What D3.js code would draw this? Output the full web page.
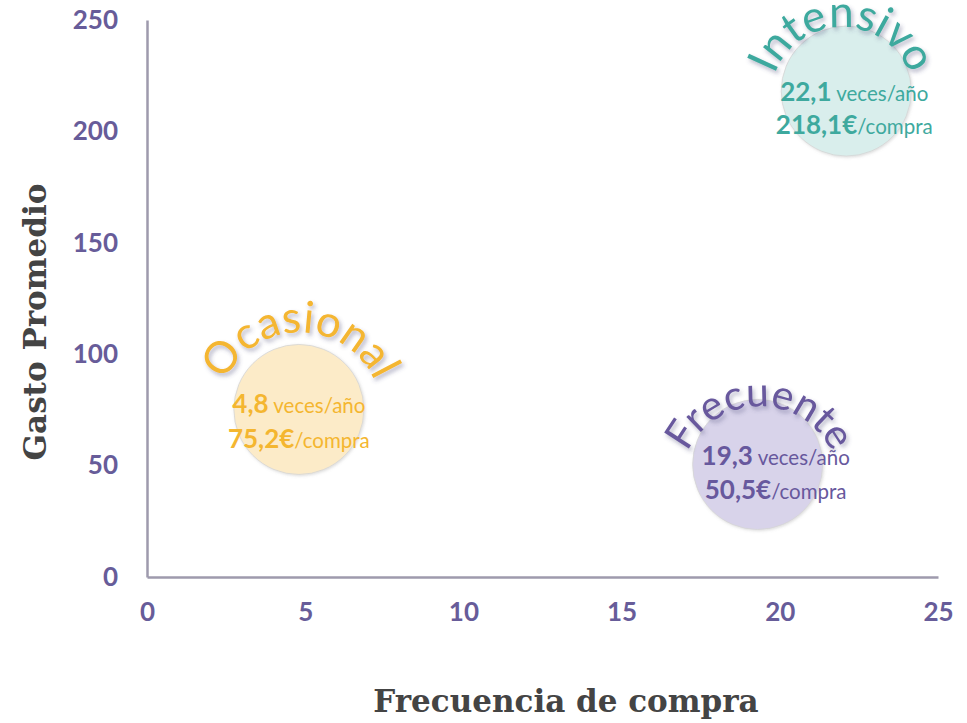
<!DOCTYPE html>
<html>
<head>
<meta charset="utf-8">
<script src="https://cdn.jsdelivr.net/npm/d3@7"></script>
<style>
  body { margin: 0; background: #fff; }
  text { font-family: Lato, "Open Sans", sans-serif; }
</style>
</head>
<body>
<svg id="chart" width="967" height="723"></svg>
<script>
// data
const segments = ["Ocasional", "Frecuente", "Intensivo"];
const frequency = [4.8, 19.3, 22.1];   // veces/año
const avgSpend = [75.2, 50.5, 218.1];  // €/compra
const xTicks = [0, 5, 10, 15, 20, 25];
const yTicks = [0, 50, 100, 150, 200, 250];
const xTitle = "Frecuencia de compra";
const yTitle = "Gasto Promedio";

// look of each segment (colours, arched title, value labels)
const look = {
  Ocasional: { fill: "#fcebc8", ink: "#f4b630", size: 44, arc: { dx: 1, dy: 5, r: 82 }, lab: { dx: 0, y1: 4, y2: 39 } },
  Frecuente: { fill: "#d8d3ea", ink: "#67589d", size: 41, arc: { dx: 2, dy: 22, r: 80 }, lab: { dx: 18, y1: 1, y2: 35 } },
  Intensivo: { fill: "#d9eeec", ink: "#3ea99e", size: 44, arc: { dx: -4, dy: 8, r: 72 }, lab: { dx: 8, y1: 10, y2: 43 } }
};

const bubbleR = 65;
const tickColor = "#675c99";
const axisColor = "#9e9aad";

const es = d3.formatLocale({ decimal: ",", thousands: ".", grouping: [3], currency: ["", "€"] });
const fmt = es.format(".1f");

const svg = d3.select("#chart");

const x = d3.scaleLinear().domain([0, 25]).range([147, 938]);
const y = d3.scaleLinear().domain([0, 250]).range([577, 20]);

const defs = svg.append("defs");
defs.append("filter").attr("id", "txtShadow")
  .attr("x", "-20%").attr("y", "-30%").attr("width", "140%").attr("height", "160%")
  .append("feDropShadow")
  .attr("dx", 2).attr("dy", 3).attr("stdDeviation", 2)
  .attr("flood-color", "#4a4a78").attr("flood-opacity", 0.4);
defs.append("filter").attr("id", "bubShadow")
  .attr("x", "-20%").attr("y", "-20%").attr("width", "140%").attr("height", "140%")
  .append("feDropShadow")
  .attr("dx", 1).attr("dy", 1).attr("stdDeviation", 1.5)
  .attr("flood-color", "#888").attr("flood-opacity", 0.3);

// axes
const xAxis = svg.append("g")
  .attr("transform", `translate(0,${y(0)})`)
  .call(d3.axisBottom(x).tickValues(xTicks).tickSize(0).tickSizeOuter(0).tickPadding(26).tickFormat(d3.format("d")));
const yAxis = svg.append("g")
  .attr("transform", `translate(${x(0)},0)`)
  .call(d3.axisLeft(y).tickValues(yTicks).tickSize(0).tickSizeOuter(0).tickPadding(29).tickFormat(d3.format("d")));

[xAxis, yAxis].forEach(function (g) {
  g.select(".domain").attr("stroke", axisColor).attr("stroke-width", 2.5);
  g.selectAll(".tick text")
    .attr("fill", tickColor)
    .style("font-family", "Lato, sans-serif")
    .style("font-size", "26px")
    .style("font-weight", 700);
});

// axis titles
svg.append("text")
  .attr("x", 566).attr("y", 712)
  .attr("text-anchor", "middle")
  .attr("fill", "#444")
  .style("font-family", "'DejaVu Serif', serif")
  .style("font-weight", 700)
  .style("font-size", "31px")
  .text(xTitle);

svg.append("text")
  .attr("transform", "translate(46,322) rotate(-90)")
  .attr("text-anchor", "middle")
  .attr("fill", "#444")
  .style("font-family", "'DejaVu Serif', serif")
  .style("font-weight", 700)
  .style("font-size", "31px")
  .text(yTitle);

// bubbles
const data = segments.map(function (s, i) {
  return { name: s, freq: frequency[i], spend: avgSpend[i] };
});

const g = svg.selectAll(".segment")
  .data(data)
  .enter()
  .append("g")
  .attr("class", "segment");

g.append("circle")
  .attr("cx", d => x(d.freq))
  .attr("cy", d => y(d.spend))
  .attr("r", bubbleR)
  .attr("fill", d => look[d.name].fill)
  .attr("stroke", "#d6d6d6")
  .attr("stroke-width", 0.8)
  .attr("filter", "url(#bubShadow)");

// arched segment names
g.each(function (d, i) {
  const a = look[d.name].arc;
  const p = d3.path();
  p.arc(x(d.freq) + a.dx, y(d.spend) + a.dy, a.r, Math.PI / 2 + 0.1, Math.PI * 2.5 - 0.1);
  defs.append("path").attr("id", "arc" + i).attr("d", p.toString());
});

g.append("text")
  .attr("fill", d => look[d.name].ink)
  .attr("filter", "url(#txtShadow)")
  .style("font-size", d => look[d.name].size + "px")
  .style("font-weight", 400)
  .append("textPath")
  .attr("href", (d, i) => "#arc" + i)
  .attr("startOffset", "50%")
  .attr("text-anchor", "middle")
  .text(d => d.name);

// value labels
const l1 = g.append("text")
  .attr("x", d => x(d.freq) + look[d.name].lab.dx)
  .attr("y", d => y(d.spend) + look[d.name].lab.y1)
  .attr("text-anchor", "middle")
  .attr("fill", d => look[d.name].ink);
l1.append("tspan").style("font-weight", 700).style("font-size", "26px").text(d => fmt(d.freq));
l1.append("tspan").style("font-size", "20.5px").text(" veces/año");

const l2 = g.append("text")
  .attr("x", d => x(d.freq) + look[d.name].lab.dx)
  .attr("y", d => y(d.spend) + look[d.name].lab.y2)
  .attr("text-anchor", "middle")
  .attr("fill", d => look[d.name].ink);
l2.append("tspan").style("font-weight", 700).style("font-size", "26px").text(d => fmt(d.spend) + "€");
l2.append("tspan").style("font-size", "20.5px").text("/compra");
</script>
</body>
</html>
